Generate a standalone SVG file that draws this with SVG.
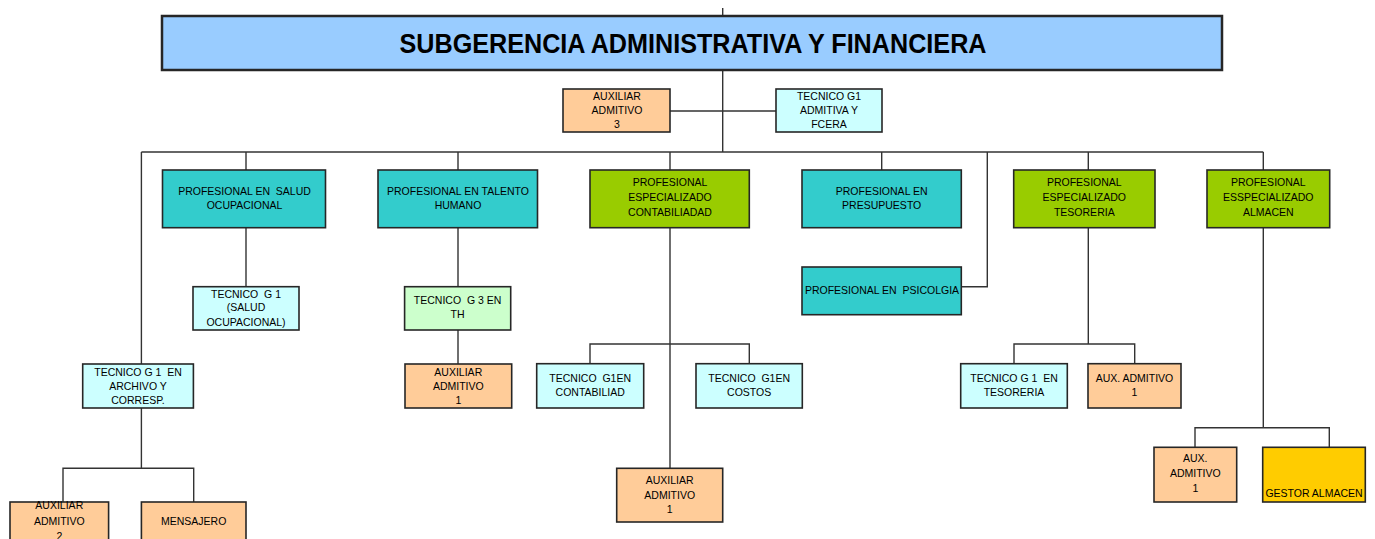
<svg xmlns="http://www.w3.org/2000/svg" width="1375" height="539" viewBox="0 0 1375 539">
<style>
.b{stroke:#262626;stroke-width:1.6}
.t{font-family:"Liberation Sans",Arial,sans-serif;font-size:10.5px;fill:#000;text-anchor:middle}
.c{fill:none;stroke:#333;stroke-width:1.4}
.teal{fill:#33cccc}.grn{fill:#99cc00}.pch{fill:#ffcc99}.cyn{fill:#ccffff}.lg{fill:#ccffcc}.yel{fill:#ffcc00}
</style>
<rect width="1375" height="539" fill="#fff"/>
<g id="connectors" class="c">
<path d="M722.7 8V16M722.7 70V152M670 111H776"/>
<path d="M141.4 152H1263.3"/>
<path d="M246 152V170M458 152V170M670 152V170M881.7 152V170M1088.3 152V170M1263.3 152V170"/>
<path d="M961.3 286.7H987.3V152"/>
<path d="M141.4 152V364"/>
<path d="M246 227.7V286.7"/>
<path d="M458 227.7V286.7M458 330V364"/>
<path d="M141.4 408V468.3M63 502V468.3H193.7V502"/>
<path d="M670 227.7V468.3M590 363.7V344H749.3V363.7"/>
<path d="M1088.3 227.7V344M1014 363.7V344H1134.7V363.7"/>
<path d="M1263.3 227.7V427.7M1195 447.3V427.7H1329.3V447.3"/>
</g>
<g id="title">
<rect x="162" y="16" width="1060" height="54" fill="#99ccff" stroke="#262626" stroke-width="2.5"/>
<text x="693" y="53" font-family="Liberation Sans,Arial,sans-serif" font-size="27" font-weight="bold" text-anchor="middle" textLength="587" lengthAdjust="spacingAndGlyphs">SUBGERENCIA ADMINISTRATIVA Y FINANCIERA</text>
</g>
<g id="aux3">
<rect class="b pch" x="563" y="89" width="107" height="43"/>
<text class="t" x="617" y="99.7">AUXILIAR</text><text class="t" x="617" y="114">ADMITIVO</text><text class="t" x="617" y="128.4">3</text>
</g>
<g id="tecg1adm">
<rect class="b cyn" x="776" y="89" width="106" height="43"/>
<text class="t" x="829" y="99.7">TECNICO G1</text><text class="t" x="829" y="114">ADMITIVA Y</text><text class="t" x="829" y="128.4">FCERA</text>
</g>
<g id="profsalud">
<rect class="b teal" x="162.5" y="170" width="163" height="57.7"/>
<text class="t" x="244.5" y="195.4" xml:space="preserve">PROFESIONAL EN  SALUD</text><text class="t" x="244.5" y="209.4">OCUPACIONAL</text>
</g>
<g id="proftalento">
<rect class="b teal" x="378" y="170" width="159.5" height="57.7"/>
<text class="t" x="458" y="195.4">PROFESIONAL EN TALENTO</text><text class="t" x="458" y="209.4">HUMANO</text>
</g>
<g id="profcontab">
<rect class="b grn" x="590" y="170" width="159.3" height="57.7"/>
<text class="t" x="670" y="186.4">PROFESIONAL</text><text class="t" x="670" y="201">ESPECIALIZADO</text><text class="t" x="670" y="215.7">CONTABILIADAD</text>
</g>
<g id="profpresupuesto">
<rect class="b teal" x="802" y="170" width="159.3" height="57.7"/>
<text class="t" x="881.7" y="194.7">PROFESIONAL EN</text><text class="t" x="881.7" y="209">PRESUPUESTO</text>
</g>
<g id="profpsicologia">
<rect class="b teal" x="802" y="267" width="159.3" height="47.7"/>
<text class="t" x="882" y="294.4" xml:space="preserve">PROFESIONAL EN  PSICOLGIA</text>
</g>
<g id="proftesoreria">
<rect class="b grn" x="1013.7" y="170" width="141.3" height="57.7"/>
<text class="t" x="1084.3" y="186.4">PROFESIONAL</text><text class="t" x="1084.3" y="201">ESPECIALIZADO</text><text class="t" x="1084.3" y="215.7">TESORERIA</text>
</g>
<g id="profalmacen">
<rect class="b grn" x="1207" y="170" width="122.7" height="57.7"/>
<text class="t" x="1268.3" y="186.4">PROFESIONAL</text><text class="t" x="1268.3" y="201">ESSPECIALIZADO</text><text class="t" x="1268.3" y="215.7">ALMACEN</text>
</g>
<g id="tecsalud">
<rect class="b cyn" x="193" y="286.7" width="106" height="43.3"/>
<text class="t" x="246" y="297.7" xml:space="preserve">TECNICO  G 1</text><text class="t" x="246" y="311.4">(SALUD</text><text class="t" x="246" y="326.4">OCUPACIONAL)</text>
</g>
<g id="tecth">
<rect class="b lg" x="404.6" y="286.7" width="106.1" height="43.3"/>
<text class="t" x="457.6" y="303.7" xml:space="preserve">TECNICO  G 3 EN</text><text class="t" x="457.6" y="318">TH</text>
</g>
<g id="tecarchivo">
<rect class="b cyn" x="82.7" y="364" width="110.7" height="44"/>
<text class="t" x="138" y="375.7" xml:space="preserve">TECNICO G 1  EN</text><text class="t" x="138" y="390">ARCHIVO Y</text><text class="t" x="138" y="404.4">CORRESP.</text>
</g>
<g id="auxth">
<rect class="b pch" x="405" y="364" width="106.7" height="44"/>
<text class="t" x="458.3" y="375.7">AUXILIAR</text><text class="t" x="458.3" y="390">ADMITIVO</text><text class="t" x="458.3" y="404.4">1</text>
</g>
<g id="aux2">
<rect class="b pch" x="10" y="502" width="98.6" height="58"/>
<text class="t" x="59.3" y="509.4">AUXILIAR</text><text class="t" x="59.3" y="525">ADMITIVO</text><text class="t" x="59.3" y="540.4">2</text>
</g>
<g id="mensajero">
<rect class="b pch" x="141.4" y="502" width="104.6" height="58"/>
<text class="t" x="193.7" y="525">MENSAJERO</text>
</g>
<g id="teccontab">
<rect class="b cyn" x="536.7" y="363.7" width="107" height="44.3"/>
<text class="t" x="590.2" y="382" xml:space="preserve">TECNICO  G1EN</text><text class="t" x="590.2" y="396.4">CONTABILIAD</text>
</g>
<g id="teccostos">
<rect class="b cyn" x="696" y="363.7" width="106.3" height="44.3"/>
<text class="t" x="749.2" y="382" xml:space="preserve">TECNICO  G1EN</text><text class="t" x="749.2" y="396.4">COSTOS</text>
</g>
<g id="auxcontab">
<rect class="b pch" x="616.7" y="468.3" width="106" height="53.7"/>
<text class="t" x="669.7" y="484.4">AUXILIAR</text><text class="t" x="669.7" y="498.7">ADMITIVO</text><text class="t" x="669.7" y="513.4">1</text>
</g>
<g id="tectesoreria">
<rect class="b cyn" x="960.7" y="363.7" width="106.6" height="44.3"/>
<text class="t" x="1014" y="382" xml:space="preserve">TECNICO G 1  EN</text><text class="t" x="1014" y="396.4">TESORERIA</text>
</g>
<g id="auxtesoreria">
<rect class="b pch" x="1088" y="363.7" width="93" height="44.3"/>
<text class="t" x="1134.5" y="382">AUX. ADMITIVO</text><text class="t" x="1134.5" y="396.4">1</text>
</g>
<g id="auxalmacen">
<rect class="b pch" x="1154" y="447.3" width="82.7" height="54.7"/>
<text class="t" x="1195.3" y="462.4">AUX.</text><text class="t" x="1195.3" y="477.4">ADMITIVO</text><text class="t" x="1195.3" y="491.7">1</text>
</g>
<g id="gestor">
<rect class="b yel" x="1262.7" y="447.3" width="102.6" height="54.7"/>
<text class="t" x="1314" y="497">GESTOR ALMACEN</text>
</g>
</svg>
